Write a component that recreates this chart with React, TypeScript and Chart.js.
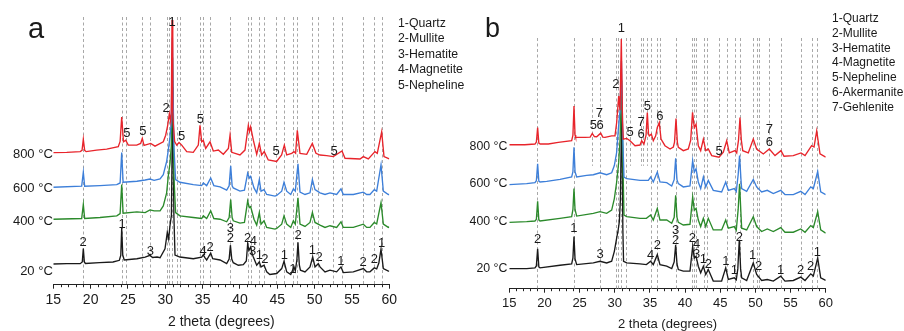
import { useEffect, useRef } from "react";
import { Chart, registerables } from "chart.js";

Chart.register(...registerables);

type P = [number, number];
type L = [number, number, string];

const FONT = "'Liberation Sans', Arial, sans-serif";
const TEXT = "#1a1a1a";

const temperatures = ["800 °C", "600 °C", "400 °C", "20 °C"];
const seriesColors = ["#e8242b", "#3d7fd9", "#2b8a2b", "#1a1a1a"];
const legendA = ["1-Quartz", "2-Mullite", "3-Hematite", "4-Magnetite", "5-Nepheline"];
const legendB = ["1-Quartz", "2-Mullite", "3-Hematite", "4-Magnetite", "5-Nepheline", "6-Akermanite", "7-Gehlenite"];

// ---------- Panel a (intensity, a.u.) ----------
const a800: P[] = [[15,133.7],[16.8,134],[18.6,134.7],[18.85,136],[19.02,147.3],[19.2,136],[19.4,134.7],[20.8,136.3],[22.15,137.3],[23.7,139.7],[23.95,145],[24.16,169.7],[24.4,144.7],[24.7,146.3],[25.04,141.3],[26.17,141.3],[26.7,143],[26.92,148],[27.15,141],[28.04,143],[28.62,140.3],[29.73,144.7],[30.05,151.3],[30.32,161.3],[30.54,173],[30.72,165],[30.8,175],[30.9,268],[31.0,175],[31.1,160],[31.25,145],[31.53,141.3],[31.84,144],[32.2,141.3],[32.87,134.7],[33.75,134],[34.42,141.3],[34.65,161.3],[34.87,144.7],[35.09,146],[35.41,138],[35.99,144.7],[36.43,135.3],[37.1,136.3],[37.77,132],[38.45,138],[38.67,151.3],[38.9,134],[40.0,131.3],[40.67,136.3],[41.12,161.3],[41.28,155],[41.43,159.7],[41.79,146.3],[42.24,132],[42.59,143],[42.9,131.3],[43.25,134.7],[43.79,126.3],[44.91,124.7],[45.58,131.3],[45.94,141.3],[46.26,131.3],[46.93,133],[47.23,134.7],[47.45,133],[47.68,156.3],[48.04,133],[48.94,132],[49.69,143],[50.18,133],[50.72,131.3],[51.61,130.7],[52.5,129.7],[53.66,135.3],[54.07,128],[56.08,127.3],[56.52,129.7],[57.19,127.3],[58.08,134.7],[58.39,133],[58.98,154.7],[59.29,129.7],[60,127.3]];
const a600: P[] = [[15,98.7],[18.8,99.7],[19.02,114],[19.2,99.7],[21.25,100.3],[23.5,101.3],[23.95,103],[24.16,133.7],[24.35,103.7],[26.2,104.7],[27.3,106],[27.95,107],[28.5,105.7],[29.3,107],[29.73,111.3],[30.18,124.7],[30.4,136.3],[30.63,149.7],[30.8,165],[30.95,250],[31.15,140],[31.38,106.3],[31.96,103.7],[33.75,101.3],[34.87,100.3],[35.09,103],[35.54,100.3],[36.08,108],[36.5,100.3],[37.33,99],[38.22,95.7],[38.55,100],[38.76,120.3],[38.95,100],[39.1,98],[40.0,94.7],[40.6,95.7],[41.03,113],[41.25,108],[41.43,109.7],[41.88,98],[42.24,93],[42.59,106.3],[42.82,94.7],[43.22,96.3],[43.58,91.3],[44.69,89.7],[44.92,90.3],[45.59,94.7],[45.9,103.7],[46.26,94.7],[46.8,91.3],[47.15,97],[47.41,94.7],[47.77,122.3],[48.04,93.7],[48.71,91.3],[49.38,93],[49.7,106.3],[50.05,96.3],[50.72,93],[51.39,91.3],[52.06,93],[52.95,91.3],[53.53,97],[53.84,91.3],[55.18,91.3],[56.52,93.7],[56.97,91.3],[57.41,91.3],[57.99,96.3],[58.31,94.7],[58.89,121.3],[59.2,94.7],[59.87,91.3],[60,91.3]];
const a400: P[] = [[15,66.3],[18.8,67],[19.02,81.3],[19.2,67],[21.25,68],[23.5,69.7],[23.95,72],[24.16,101.3],[24.35,72.3],[26.2,73.7],[27.3,73],[27.95,75.7],[28.5,74.7],[29.3,74.7],[29.73,79.7],[30.18,93],[30.4,110],[30.63,123],[30.8,140],[30.97,230],[31.15,110],[31.38,73],[31.96,69.7],[33.75,68],[34.87,67],[35.09,69.7],[35.54,67],[36.08,74.7],[36.5,67],[37.33,66.3],[38.22,63.7],[38.55,68],[38.76,86.3],[38.95,68],[39.1,64.7],[40.0,62.3],[40.6,63],[41.03,84.7],[41.25,78],[41.43,79],[41.88,66.3],[42.24,60.3],[42.59,73],[42.82,61.3],[43.22,64.7],[43.58,58],[44.69,56.3],[44.92,57],[45.59,61.3],[45.9,69.7],[46.26,61.3],[46.8,58],[47.15,64.7],[47.41,61.3],[47.77,88],[48.04,61.3],[48.71,59],[49.38,63],[49.7,73],[50.05,63],[50.72,60.3],[51.39,58],[52.06,59.7],[52.95,58],[53.53,63.7],[53.84,58],[55.18,58],[56.52,61.3],[56.97,58],[57.41,58],[57.99,63],[58.31,61.5],[58.89,83],[59.2,61.3],[59.87,58],[60,58.5]];
const a20: P[] = [[15,21],[16.8,21.3],[18.6,21.3],[18.88,23],[19.02,36.5],[19.16,23],[19.3,21.5],[21.2,22.3],[23.0,23],[23.85,24.7],[24.04,30],[24.16,57.5],[24.3,30],[24.5,25],[26.2,26.3],[27.3,28],[27.95,29.7],[28.3,27.5],[28.9,28],[29.3,27.3],[29.96,36.3],[30.27,53],[30.45,46.3],[30.63,60],[30.82,70],[31.0,200],[31.15,70],[31.3,30],[31.96,28],[33.75,26.3],[34.87,28],[35.09,30.3],[35.3,27.5],[35.54,25],[36.08,32],[36.35,26.3],[37.33,25],[38.22,21.3],[38.55,26],[38.72,40],[38.9,26],[39.1,22.3],[39.78,19.7],[40.45,20.3],[40.85,24],[41.03,41.3],[41.2,34.7],[41.43,38],[41.6,32],[41.79,28],[42.24,19.7],[42.59,23],[42.82,18],[43.22,19.7],[43.58,13],[44.0,10.3],[44.92,11.3],[45.59,16.3],[45.9,23.7],[46.26,13],[46.8,10.3],[47.24,18],[47.41,14],[47.62,25],[47.77,43],[47.95,20],[48.1,14.7],[48.71,13],[49.38,18],[49.74,28],[50.05,18],[50.49,21.3],[50.72,18],[51.39,13],[52.06,14.7],[52.95,13],[53.53,18],[53.84,12.3],[55.18,13],[56.52,16.3],[56.97,13],[57.41,13],[57.99,17],[58.31,16],[58.6,22],[58.89,36],[59.2,16.3],[59.87,13.7],[60,13.7]];

const aRefLines = [19.02, 24.15, 24.7, 26.92, 28.0, 30.2, 30.5, 30.9, 31.5, 31.95, 34.65, 35.05, 36.0, 38.67, 41.1, 41.43, 42.59, 43.2, 44.8, 45.92, 47.08, 47.7, 49.69, 50.49, 52.5, 53.66, 56.52, 58.0, 58.97];
const aPeakLabels: L[] = [
  [30.9, 266, "1"], [30.1, 178, "2"], [24.85, 153, "5"], [27.0, 155, "5"], [32.2, 150, "5"], [34.7, 167, "5"], [44.83, 135, "5"], [52.6, 135, "5"],
  [19.0, 42.3, "2"], [24.2, 61, "1"], [28.0, 34, "3"], [35.05, 34, "4"], [36.0, 38, "2"], [38.7, 57, "3"], [38.7, 47.3, "2"], [41.03, 47.3, "2"], [41.78, 44, "4"], [41.7, 34, "3"], [42.6, 30, "1"], [43.35, 25.3, "2"], [45.95, 30, "1"], [47.1, 15, "1"], [47.8, 49.7, "2"], [49.7, 34.7, "1"], [50.6, 28, "2"], [53.5, 23.7, "1"], [56.5, 22.3, "2"], [57.99, 25.3, "2"], [58.98, 41.3, "1"],
];
const aTempLabelY = [133, 98, 65.3, 14.7];

// ---------- Panel b (intensity, a.u.) ----------
const b800: P[] = [[15,145.3],[17.2,145.3],[18.65,146],[18.85,148],[19.03,162.7],[19.2,147],[19.4,146],[20.55,146],[21.97,147.7],[23.87,149.3],[24.05,155],[24.2,184.3],[24.35,155],[24.44,152.7],[25.77,152.7],[26.5,153],[26.8,156.7],[27.1,153.5],[27.43,153.3],[28.0,157],[28.3,153],[28.61,152.7],[29.56,154.3],[30.03,154.3],[30.27,167.7],[30.56,194.3],[30.75,180],[30.93,252],[31.1,170],[31.21,151],[31.7,151.7],[32.17,149.3],[32.88,144.3],[33.59,145],[33.83,149.3],[34.15,146],[34.45,155],[34.63,177.7],[34.8,156],[34.91,154.3],[35.2,156],[35.48,149.3],[35.82,154.3],[36.05,162.7],[36.33,167.7],[36.58,151],[37.14,144.3],[37.86,141],[38.33,143],[38.5,148],[38.71,171.7],[38.9,148],[39.04,142.7],[39.75,139.3],[40.46,141],[40.8,150],[41.06,178],[41.31,162.7],[41.56,166],[41.88,144.3],[42.22,139.3],[42.6,151],[42.94,139.3],[43.3,141],[43.79,134.3],[44.83,132.7],[45.44,137.7],[45.92,149.3],[46.29,137],[47.1,139.3],[47.34,137],[47.6,150],[47.81,172.7],[48.0,150],[48.2,139.3],[48.99,137],[49.7,151],[50.18,141],[51.13,136],[51.98,141],[52.79,134.3],[53.64,139.3],[54.07,133.7],[55.39,134.3],[56.49,137],[57.06,134.3],[58.0,144.3],[58.34,143],[58.72,159.3],[59.19,136],[60,132.7]];
const b600: P[] = [[15,105],[17.47,106],[18.65,107],[18.85,109],[19.03,126],[19.2,108.5],[19.37,107.7],[20.32,108.3],[22.21,110.3],[23.87,112.7],[24.05,118],[24.2,142.7],[24.35,118],[24.58,112.7],[26.0,114.3],[26.95,115],[27.9,117],[28.85,115],[29.56,117],[29.94,124.3],[30.27,137.7],[30.5,160],[30.75,180],[30.95,230],[31.15,150],[31.31,112.7],[31.7,111],[33.59,109.3],[34.77,109.3],[35.1,112.7],[35.48,107.7],[36.05,117.7],[36.43,107.7],[37.39,107],[38.1,103.7],[38.45,110],[38.66,131.7],[38.85,110],[39.04,106],[39.75,102.7],[40.7,103.7],[41.08,129.3],[41.31,117.7],[41.56,121],[41.88,107.7],[42.22,101],[42.6,112.7],[42.94,102.7],[43.3,109.3],[44.01,99.3],[45.2,97.7],[45.78,107.7],[46.15,99.3],[47.0,101],[47.28,98],[47.55,115],[47.75,134.3],[47.95,110],[48.05,101],[48.76,98.3],[49.7,110.3],[50.18,102.7],[50.89,97.7],[51.69,99.3],[52.55,96],[53.6,99.3],[54.21,95],[55.39,95],[56.45,98.3],[57.06,95],[57.87,102.7],[58.24,101],[58.86,118.3],[59.29,97.7],[60,95]];
const b400: P[] = [[15,67],[17.47,67.7],[18.65,68.3],[18.85,70],[19.03,88.3],[19.2,69.5],[19.37,68.3],[22.21,71],[23.87,72.7],[24.05,80],[24.2,101],[24.35,80],[24.58,73.3],[26.95,76],[27.9,77.7],[28.85,76],[29.56,79.3],[29.94,91],[30.27,107.7],[30.56,127.7],[30.75,150],[30.97,210],[31.15,130],[31.31,74.3],[31.7,72.7],[33.59,71],[34.5,71],[35.1,74.3],[35.48,69.3],[36.05,81],[36.43,69.3],[37.39,69.3],[38.1,66],[38.45,72],[38.66,94.3],[38.85,72],[39.04,67],[39.75,64.3],[40.7,65],[41.08,92.7],[41.31,79.3],[41.56,81],[41.88,69.3],[42.22,62.7],[42.6,71],[42.94,62.7],[43.3,71],[44.01,59.3],[45.2,59.3],[45.78,69.3],[46.15,61],[47.0,62.7],[47.28,59],[47.55,80],[47.75,106],[47.95,75],[48.05,61],[48.76,59.3],[49.7,72.7],[50.18,62.7],[50.89,57.7],[51.69,60.3],[52.55,57.7],[53.6,61.7],[54.21,57],[55.39,57],[56.45,60.3],[57.06,57],[57.87,63.7],[58.24,61.7],[58.86,77.7],[59.29,59.3],[60,56]];
const b20: P[] = [[15,20.3],[17.47,20.3],[18.65,21],[18.85,23],[19.03,40.3],[19.2,22],[19.37,21],[22.21,23.7],[23.87,25],[24.05,31],[24.2,52.7],[24.35,30],[24.58,24.3],[26.95,26],[27.9,27.7],[28.85,26],[29.56,27.7],[29.94,37.7],[30.27,51],[30.5,60],[30.65,67.7],[30.8,90],[31.0,190],[31.15,60],[31.25,27.7],[31.7,26],[33.59,25],[34.5,24.3],[35.1,27.7],[35.48,24.3],[36.05,34.3],[36.43,24.3],[37.39,22.7],[38.1,20.3],[38.45,27],[38.66,44.3],[38.85,25],[39.04,19.3],[39.75,17.7],[40.7,17.7],[41.08,42.7],[41.31,31],[41.56,32.7],[41.88,22.7],[42.22,16],[42.6,22.7],[42.94,14.3],[43.3,19.3],[44.01,7.7],[45.2,7.7],[45.78,21],[46.15,9.3],[47.0,11],[47.28,9],[47.5,20],[47.71,49.3],[47.9,20],[48.05,11],[48.76,8.3],[49.7,26],[50.18,14.3],[50.89,8.3],[51.69,9.3],[52.55,7.7],[53.6,12.7],[54.21,7.7],[55.39,8.3],[56.45,11.7],[57.06,8.3],[57.87,15],[58.24,12.7],[58.86,31],[59.29,11],[60,8.3]];

const bRefLines = [18.98, 24.2, 27.9, 30.18, 30.5, 30.93, 31.55, 35.15, 36.05, 38.7, 41.03, 41.3, 41.5, 42.73, 43.07, 45.92, 47.1, 47.81, 49.7, 50.19, 50.52, 53.64, 56.49, 58.0, 58.72];
const bShortRefLines = [26.8, 32.17, 33.73, 34.0, 34.63, 36.43, 44.82, 51.98];
const bShortLineEnd = 124;
const bPeakLabels: L[] = [
  [30.93, 262.7, "1"], [30.15, 206, "2"], [26.95, 165, "5"], [27.9, 165, "6"], [27.8, 177, "7"], [32.17, 157.7, "5"], [33.73, 167.7, "7"], [33.73, 156, "6"], [34.63, 183.7, "5"], [36.43, 174.3, "6"], [44.83, 138.3, "5"], [51.98, 160.3, "7"], [51.98, 147.7, "6"],
  [19.03, 49.3, "2"], [24.2, 61, "1"], [27.9, 35, "3"], [35.1, 33.7, "4"], [36.05, 43.3, "2"], [38.66, 59.3, "3"], [38.66, 48.3, "2"], [41.03, 51, "2"], [41.65, 44.3, "4"], [41.65, 34.3, "3"], [42.6, 29.3, "1"], [43.3, 24.3, "2"], [45.8, 27.7, "1"], [47.0, 18.3, "1"], [47.71, 51.7, "2"], [49.6, 33.3, "1"], [50.45, 22.7, "2"], [53.6, 18.3, "1"], [56.45, 18.3, "2"], [57.87, 22.7, "2"], [58.81, 37, "1"],
];
const bTempLabelY = [144.3, 106.7, 68.7, 21.7];

interface Panel {
  series: P[][];
  refLines: number[];
  shortLines: number[];
  shortEnd: number;
  peakLabels: L[];
  tempY: number[];
  legend: string[];
  letter: string;
  height: number;
  left: number;
  right: number;
  top: number;
  yMax: number;
  axisFont: number;
  titlePad: { top: number; bottom: number };
  tempFont: number;
  tempGap: number;
  letterPos: [number, number, number];
  legendPos: [number, number, number, number];
}

const panelA: Panel = {
  series: [a800, a600, a400, a20],
  refLines: aRefLines, shortLines: [], shortEnd: 0,
  peakLabels: aPeakLabels, tempY: aTempLabelY, legend: legendA, letter: "a",
  height: 331, left: 53.3, right: 389.3, top: 17, yMax: 271, axisFont: 14,
  titlePad: { top: 2.4, bottom: 0.3 }, tempFont: 13, tempGap: 0.5,
  letterPos: [28, 38, 29], legendPos: [398, 23.3, 15.5, 12.3],
};
const panelB: Panel = {
  series: [b800, b600, b400, b20],
  refLines: bRefLines, shortLines: bShortRefLines, shortEnd: bShortLineEnd,
  peakLabels: bPeakLabels, tempY: bTempLabelY, legend: legendB, letter: "b",
  height: 334, left: 509.3, right: 825.7, top: 38, yMax: 253, axisFont: 13,
  titlePad: { top: 2.2, bottom: 1.9 }, tempFont: 12.3, tempGap: 2,
  letterPos: [485, 37, 27], legendPos: [832, 19, 14.7, 12],
};

function panelPlugin(p: Panel) {
  return {
    id: "xrdPanel",
    beforeDatasetsDraw(chart: any) {
      const { ctx, chartArea } = chart;
      const xs = chart.scales.x;
      const ys = chart.scales.y;
      ctx.save();
      ctx.strokeStyle = "#a8a8a8";
      ctx.lineWidth = 1;
      ctx.setLineDash([3, 2.5]);
      const draw = (v: number, bottom: number) => {
        const x = Math.round(xs.getPixelForValue(v)) + 0.5;
        ctx.beginPath();
        ctx.moveTo(x, chartArea.top);
        ctx.lineTo(x, bottom);
        ctx.stroke();
      };
      p.refLines.forEach((v) => draw(v, chartArea.bottom));
      p.shortLines.forEach((v) => draw(v, ys.getPixelForValue(p.shortEnd)));
      ctx.restore();
    },
    afterDraw(chart: any) {
      const { ctx, chartArea } = chart;
      const xs = chart.scales.x;
      const ys = chart.scales.y;
      ctx.save();
      ctx.strokeStyle = "#222";
      ctx.lineWidth = 1;
      for (let v = 16; v < 60; v++) {
        if (v % 5 === 0) continue;
        const x = Math.round(xs.getPixelForValue(v)) + 0.5;
        ctx.beginPath();
        ctx.moveTo(x, chartArea.bottom);
        ctx.lineTo(x, chartArea.bottom + 2.5);
        ctx.stroke();
      }
      ctx.fillStyle = TEXT;
      ctx.font = `13px ${FONT}`;
      ctx.textAlign = "center";
      ctx.textBaseline = "middle";
      p.peakLabels.forEach(([x, y, t]) => {
        ctx.fillText(t, xs.getPixelForValue(x), ys.getPixelForValue(y));
      });
      ctx.font = `${p.tempFont}px ${FONT}`;
      ctx.textAlign = "right";
      temperatures.forEach((t, i) => {
        ctx.fillText(t, chartArea.left - p.tempGap, ys.getPixelForValue(p.tempY[i]) + 1);
      });
      const [lx, ly, ls] = p.letterPos;
      ctx.font = `${ls}px ${FONT}`;
      ctx.textAlign = "left";
      ctx.textBaseline = "alphabetic";
      ctx.fillText(p.letter, lx, ly);
      const [gx, gy, gs, gf] = p.legendPos;
      ctx.font = `${gf}px ${FONT}`;
      ctx.textBaseline = "middle";
      p.legend.forEach((t, i) => ctx.fillText(t, gx, gy + i * gs));
      ctx.restore();
    },
  };
}

function makeChart(canvas: HTMLCanvasElement, p: Panel) {
  return new Chart(canvas, {
    type: "line",
    data: {
      datasets: p.series.map((s, i) => ({
        label: temperatures[i],
        data: s.map(([x, y]) => ({ x, y })),
        borderColor: seriesColors[i],
        backgroundColor: seriesColors[i],
        borderWidth: 1.35,
        pointRadius: 0,
        tension: 0,
        fill: false,
      })),
    },
    options: {
      responsive: false,
      animation: false,
      devicePixelRatio: 1,
      events: [],
      layout: { padding: { left: p.left, right: 904 - p.right, top: p.top, bottom: 0 } },
      plugins: { legend: { display: false }, tooltip: { enabled: false } },
      scales: {
        x: {
          type: "linear",
          min: 15,
          max: 60,
          ticks: { stepSize: 5, padding: 3, color: TEXT, maxRotation: 0, autoSkip: false, font: { family: FONT, size: p.axisFont } },
          grid: { drawOnChartArea: false, drawTicks: true, tickLength: 4, color: "#222", lineWidth: 1 },
          border: { display: true, color: "#222", width: 1 },
          title: { display: true, text: "2 theta (degrees)", color: TEXT, font: { family: FONT, size: p.axisFont }, padding: p.titlePad },
        },
        y: { display: false, min: 0, max: p.yMax },
      },
    } as any,
    plugins: [panelPlugin(p)],
  });
}

export default function App() {
  const refA = useRef<HTMLCanvasElement>(null);
  const refB = useRef<HTMLCanvasElement>(null);
  useEffect(() => {
    const ca = makeChart(refA.current!, panelA);
    const cb = makeChart(refB.current!, panelB);
    return () => {
      ca.destroy();
      cb.destroy();
    };
  }, []);
  return (
    <div style={{ position: "absolute", left: 0, top: 0, width: 904, height: 331, overflow: "hidden", background: "#fff" }}>
      <canvas ref={refA} width={904} height={331} style={{ position: "absolute", left: 0, top: 0, width: 904, height: 331 }} />
      <canvas ref={refB} width={904} height={334} style={{ position: "absolute", left: 0, top: 0, width: 904, height: 334 }} />
    </div>
  );
}
